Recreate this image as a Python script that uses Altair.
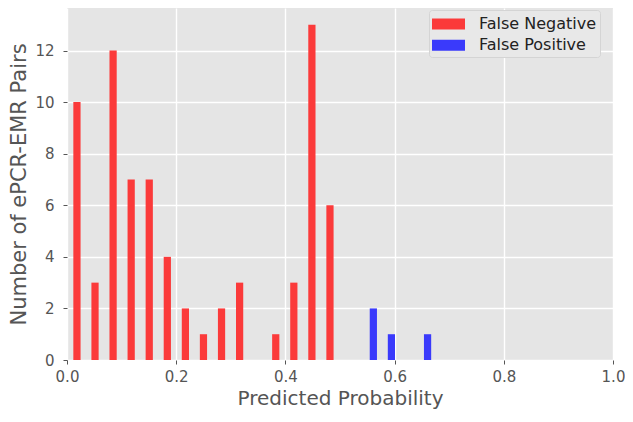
import altair as alt
import pandas as pd

# Histogram bins (30 bins)
bin_start = 0.0083
bin_width = 0.0331
series_names = ["False Negative", "False Positive"]
false_negative_counts = [10, 3, 12, 7, 7, 4, 2, 1, 2, 3, 0, 1, 3, 13, 6,
                         0, 0, 0, 0, 0, 0, 0, 0, 0, 0, 0, 0, 0, 0, 0]
false_positive_counts = [0, 0, 0, 0, 0, 0, 0, 0, 0, 0, 0, 0, 0, 0, 0,
                         0, 2, 1, 0, 1, 0, 0, 0, 0, 0, 0, 0, 0, 0, 0]
x_ticks = [0.0, 0.2, 0.4, 0.6, 0.8, 1.0]
y_ticks = [0, 2, 4, 6, 8, 10, 12]

rows = []
for s_idx, (name, counts) in enumerate(zip(series_names, [false_negative_counts, false_positive_counts])):
    for i, c in enumerate(counts):
        if c == 0:
            continue
        left = bin_start + i * bin_width + bin_width * (0.1 + 0.4 * s_idx)
        rows.append({"series": name, "x0": left, "x1": left + 0.4 * bin_width, "count": c})
df = pd.DataFrame(rows)

font = "DejaVu Sans"

chart = alt.Chart(df).mark_bar().encode(
    x=alt.X("x0:Q", scale=alt.Scale(domain=[0, 1], nice=False, zero=False),
            axis=alt.Axis(values=x_ticks, format=".1f", title="Predicted Probability",
                          labelFlush=False, labelPadding=5, titlePadding=4,
                          titleFontSize=20)),
    x2="x1:Q",
    y=alt.Y("count:Q", scale=alt.Scale(domain=[0, 13.65], nice=False),
            axis=alt.Axis(values=y_ticks, format="d", title="Number of ePCR-EMR Pairs",
                          labelPadding=9, titlePadding=5, titleFontSize=21)),
    y2=alt.datum(0),
    color=alt.Color("series:N",
                    scale=alt.Scale(domain=series_names, range=["#FB3A3A", "#3A3AFB"]),
                    legend=alt.Legend(title=None, orient="none", legendX=362, legendY=2,
                                      fillColor="#E8E8E8", strokeColor="#D4D4D4",
                                      padding=3, cornerRadius=3,
                                      symbolType="M-1,-0.5L2,-0.5L2,0.5L-1,0.5Z",
                                      symbolSize=484, symbolStrokeWidth=0, symbolOpacity=1,
                                      labelFont=font, labelFontSize=16, labelColor="#222222",
                                      labelOffset=25, rowPadding=2.3)),
).properties(
    width=546, height=352,
    autosize=alt.AutoSizeParams(type="none"),
    padding={"left": 59, "top": 0, "right": 12, "bottom": 50},
).configure_view(
    fill="#E5E5E5", stroke=None
).configure_axis(
    domain=False, grid=True, gridColor="#FFFFFF", gridWidth=1.4,
    tickColor="#555555", tickSize=4, tickWidth=1,
    labelFont=font, labelFontSize=15, labelColor="#555555",
    titleFont=font, titleColor="#555555", titleFontWeight="normal",
)

chart.save("out.html", embed_options={"renderer": "svg", "actions": False})
